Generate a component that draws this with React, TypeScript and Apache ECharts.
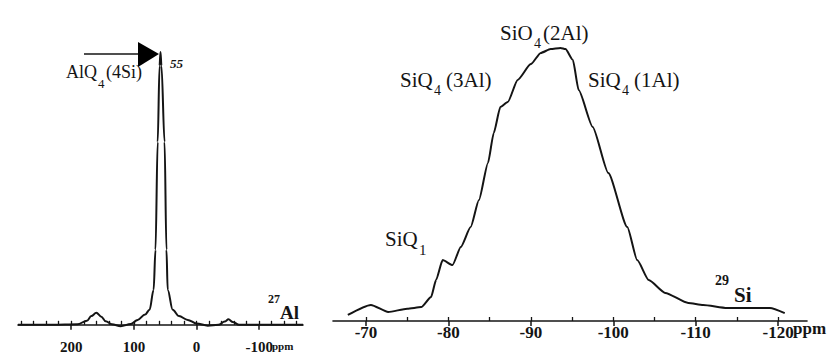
import React, { useEffect, useRef } from "react";
import * as echarts from "echarts";

// 27Al spectrum (ppm, relative intensity)
const alPpm = [285, 230, 190, 175, 168, 160, 152, 145, 135, 121, 105, 94, 82, 75, 68.5, 65.5, 62, 59, 57.5, 56, 51, 48, 46, 38, 28, 14, 0, -18, -35, -45, -51, -58, -68, -170];
const alInt = [0, 0, 0.2, 1.5, 3.2, 4.4, 3, 1.3, 0.2, -0.5, 0.3, 1.8, 3.8, 5.5, 12.8, 27.5, 67, 95, 100, 95, 67, 27.5, 12.8, 5.5, 3.2, 1.8, 0.5, -0.3, 0, 1.2, 2, 1, 0, 0];

// 29Si spectrum (ppm, relative intensity)
const siPpm = [-67.8, -70.6, -72.7, -75.0, -76.7, -77.9, -78.5, -79.3, -80.5, -81.5, -82.7, -83.7, -84.8, -85.5, -86.3, -87.2, -88.4, -90.0, -91.2, -92.4, -93.6, -94.2, -95.1, -95.8, -97.5, -99.4, -101.7, -102.9, -104.3, -106.3, -109.1, -110.9, -113.8, -119.0, -120.8];
const siInt = [2.2, 5.9, 3.3, 4.5, 5.1, 8.8, 15.0, 22.3, 20.5, 27.1, 34.4, 44.3, 57.9, 68.9, 78.4, 80.2, 88.3, 94.1, 98.2, 99.6, 100, 99.6, 95.6, 84.6, 71.1, 54.2, 34.4, 22.3, 15.0, 10.3, 6.6, 5.9, 4.8, 4.8, 2.9];

// tick values
const alMajor = [200, 100, 0, -100];
const alMinor = [280, 260, 240, 220, 180, 160, 140, 120, 80, 60, 40, 20, -20, -40, -60, -80, -120, -140, -160];
const siMajor = [-70, -80, -90, -100, -110, -120];
const siMinor = [-75, -85, -95, -105, -115];

const INK = "#141414";
const SERIF = '"Liberation Serif", "DejaVu Serif", serif';

export default function App() {
  const ref = useRef<HTMLDivElement>(null);
  useEffect(() => {
    if (!ref.current) return;
    const chart = echarts.init(ref.current, undefined, { renderer: "svg" });

    const alGrid = { left: 18, top: 52, width: 285, height: 281 };
    const siGrid = { left: 333, top: 48, width: 474, height: 273 };

    const mainX = (gridIndex: number, min: number, max: number, major: number[], fontSize: number, margin: number) => ({
      gridIndex,
      type: "value",
      inverse: true,
      min,
      max,
      position: "bottom",
      axisLine: { show: true, lineStyle: { color: INK, width: 1.6 } },
      splitLine: { show: false },
      axisTick: { show: true, customValues: major, length: 5, lineStyle: { color: INK, width: 1.5 } },
      axisLabel: {
        customValues: major,
        color: INK,
        fontFamily: SERIF,
        fontWeight: "bold",
        fontSize,
        margin,
      },
    });
    const tickX = (gridIndex: number, min: number, max: number, ticks: number[]) => ({
      gridIndex,
      type: "value",
      inverse: true,
      min,
      max,
      position: "bottom",
      axisLine: { show: false },
      splitLine: { show: false },
      axisTick: { show: true, inside: true, customValues: ticks, length: 4, lineStyle: { color: INK, width: 1.3 } },
      axisLabel: { show: false },
    });
    const hiddenY = (gridIndex: number, min: number, max: number) => ({
      gridIndex,
      type: "value",
      min,
      max,
      show: false,
      splitLine: { show: false },
    });

    const txt = (text: string, x: number, y: number, font: string, align = "left") => ({
      type: "text",
      x,
      y,
      silent: true,
      style: { text, font, fill: INK, align, verticalAlign: "middle" },
    });

    const reg = (s: number) => `${s}px ${SERIF}`;
    const bold = (s: number) => `bold ${s}px ${SERIF}`;

    chart.setOption({
      animation: false,
      backgroundColor: "#ffffff",
      grid: [
        { ...alGrid, containLabel: false },
        { ...siGrid, containLabel: false },
        { ...alGrid, containLabel: false },
        { ...siGrid, containLabel: false },
      ],
      xAxis: [
        mainX(0, -170, 285, alMajor, 15, 6),
        mainX(1, -123.5, -66, siMajor, 17, 3),
        tickX(2, -170, 285, [...alMajor, ...alMinor]),
        tickX(3, -123.5, -66, [...siMajor, ...siMinor]),
      ],
      yAxis: [hiddenY(0, -3, 100), hiddenY(1, 0, 100), hiddenY(2, -3, 100), hiddenY(3, 0, 100)],
      series: [
        {
          type: "line",
          xAxisIndex: 0,
          yAxisIndex: 0,
          data: alPpm.map((p, i) => [p, alInt[i]]),
          showSymbol: false,
          smooth: 0.35,
          smoothMonotone: "x",
          lineStyle: { color: INK, width: 2 },
          silent: true,
        },
        {
          type: "line",
          xAxisIndex: 1,
          yAxisIndex: 1,
          data: siPpm.map((p, i) => [p, siInt[i]]),
          showSymbol: false,
          smooth: 0.2,
          smoothMonotone: "x",
          lineStyle: { color: INK, width: 2 },
          silent: true,
        },
      ],
      graphic: [
        // arrow to the 27Al peak
        { type: "line", silent: true, shape: { x1: 84, y1: 54, x2: 140, y2: 54 }, style: { stroke: INK, lineWidth: 1.3 } },
        { type: "polygon", silent: true, shape: { points: [[138, 42], [138, 67], [159, 54]] }, style: { fill: "#000" } },
        // left labels
        txt("AlQ", 66, 72, reg(18)),
        txt("4", 98, 83, reg(13)),
        txt("(4Si)", 106, 72, reg(18)),
        txt("55", 170, 63, `italic bold 13px ${SERIF}`),
        txt("27", 268, 299, bold(12)),
        txt("Al", 280, 312, bold(19)),
        txt("ppm", 272, 346, bold(11)),
        // right labels
        txt("SiO", 500, 33, reg(21)),
        txt("4", 534, 43, reg(14)),
        txt("(2Al)", 543, 33, reg(21)),
        txt("SiQ", 400, 80, reg(21)),
        txt("4", 434, 90, reg(14)),
        txt("(3Al)", 446, 80, reg(21)),
        txt("SiQ", 588, 80, reg(21)),
        txt("4", 622, 90, reg(14)),
        txt("(1Al)", 634, 80, reg(21)),
        txt("SiQ", 385, 239, reg(21)),
        txt("1", 419, 250, reg(15)),
        txt("29", 715, 280, bold(14)),
        txt("Si", 734, 295, bold(21)),
        txt("ppm", 793, 328, bold(17)),
      ],
    });
    return () => chart.dispose();
  }, []);

  return <div ref={ref} style={{ position: "fixed", left: 0, top: 0, width: 831, height: 354, background: "#fff" }} />;
}
